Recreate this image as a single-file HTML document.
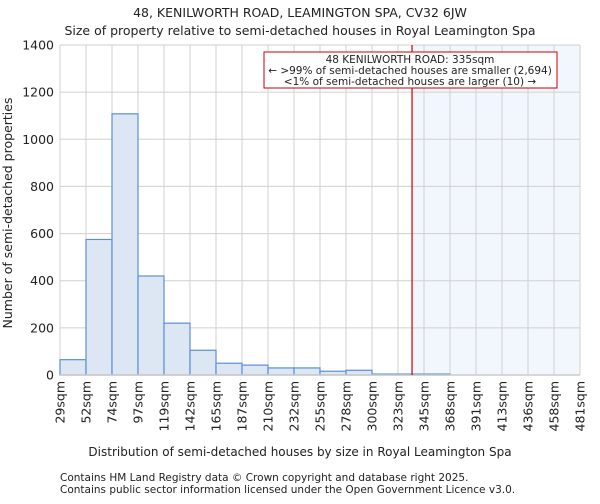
<!DOCTYPE html>
<html><head><meta charset="utf-8"><style>
body{margin:0;background:#fff;font-family:"DejaVu Sans","Liberation Sans",sans-serif}
svg text{font-family:"DejaVu Sans","Liberation Sans",sans-serif;fill:#222}
</style></head><body>
<svg id="c" width="600" height="500">
<text x="300" y="17" text-anchor="middle" font-size="12.5">48, KENILWORTH ROAD, LEAMINGTON SPA, CV32 6JW</text>
<text x="300" y="35" text-anchor="middle" font-size="12.5">Size of property relative to semi-detached houses in Royal Leamington Spa</text>
<g id="plot"></g>
<text x="300" y="456" text-anchor="middle" font-size="12">Distribution of semi-detached houses by size in Royal Leamington Spa</text>
<text transform="translate(12,213) rotate(-90)" text-anchor="middle" font-size="12.5">Number of semi-detached properties</text>
<text x="60" y="481" font-size="10.5">Contains HM Land Registry data © Crown copyright and database right 2025.</text>
<text x="60" y="493" font-size="10.5">Contains public sector information licensed under the Open Government Licence v3.0.</text>
</svg>
<script>
const categories=["29sqm","52sqm","74sqm","97sqm","119sqm","142sqm","165sqm","187sqm","210sqm","232sqm","255sqm","278sqm","300sqm","323sqm","345sqm","368sqm","391sqm","413sqm","436sqm","458sqm","481sqm"];
const counts=[65,575,1108,420,220,105,50,42,30,30,16,20,4,4,4,0,0,0,0,0];
const yTicks=[0,200,400,600,800,1000,1200,1400];
const propertySize=335;
const binStart=29, binWidth=22.6;
const NS="http://www.w3.org/2000/svg";
const L=60,R=580,T=45,B=375,yMax=1400;
const nb=counts.length, bw=(R-L)/nb;
const x=i=>L+i*bw;
const y=v=>B-v/yMax*(B-T);
const g=document.getElementById('plot');
function mk(t,a){const e=document.createElementNS(NS,t);for(const k in a)e.setAttribute(k,a[k]);g.appendChild(e);return e;}
const px=L+(propertySize-binStart)/binWidth*bw;
let e=mk('rect',{x:px,y:T,width:R-px,height:B-T,fill:'#f2f6fd'});


yTicks.forEach(v=>{const l=mk('line',{x1:L,x2:R,y1:y(v),y2:y(v),stroke:'#d0d0d0'});


const t=mk('text',{x:L-6,y:y(v)+4.5,'text-anchor':'end','font-size':'12.5'});t.textContent=v;

});
categories.forEach((c,i)=>{const l=mk('line',{x1:x(i),x2:x(i),y1:T,y2:B,stroke:'#d0d0d0'});


const t=mk('text',{transform:`translate(${x(i)+4.5},${B+6}) rotate(-90)`,'text-anchor':'end','font-size':'12.5'});t.textContent=c;

});
counts.forEach((v,i)=>{if(v<=0)return;const r=mk('rect',{x:x(i),y:y(v),width:bw,height:B-y(v),fill:'#dde7f4',stroke:'#5b8fd6','stroke-width':1.2});

});
e=mk('line',{x1:L,x2:R,y1:B,y2:B,stroke:'#ccc','stroke-width':1.5});


e=mk('line',{x1:px,x2:px,y1:T,y2:B,stroke:'#cc0000','stroke-width':1.2});


e=mk('rect',{x:264,y:52,width:293,height:36,fill:'#fff',stroke:'#cc0000'});


["48 KENILWORTH ROAD: 335sqm","← >99% of semi-detached houses are smaller (2,694)","<1% of semi-detached houses are larger (10) →"].forEach((s,i)=>{
const t=mk('text',{x:410,y:63+i*11,'text-anchor':'middle','font-size':'10.5'});t.textContent=s;

});
</script>
</body></html>
